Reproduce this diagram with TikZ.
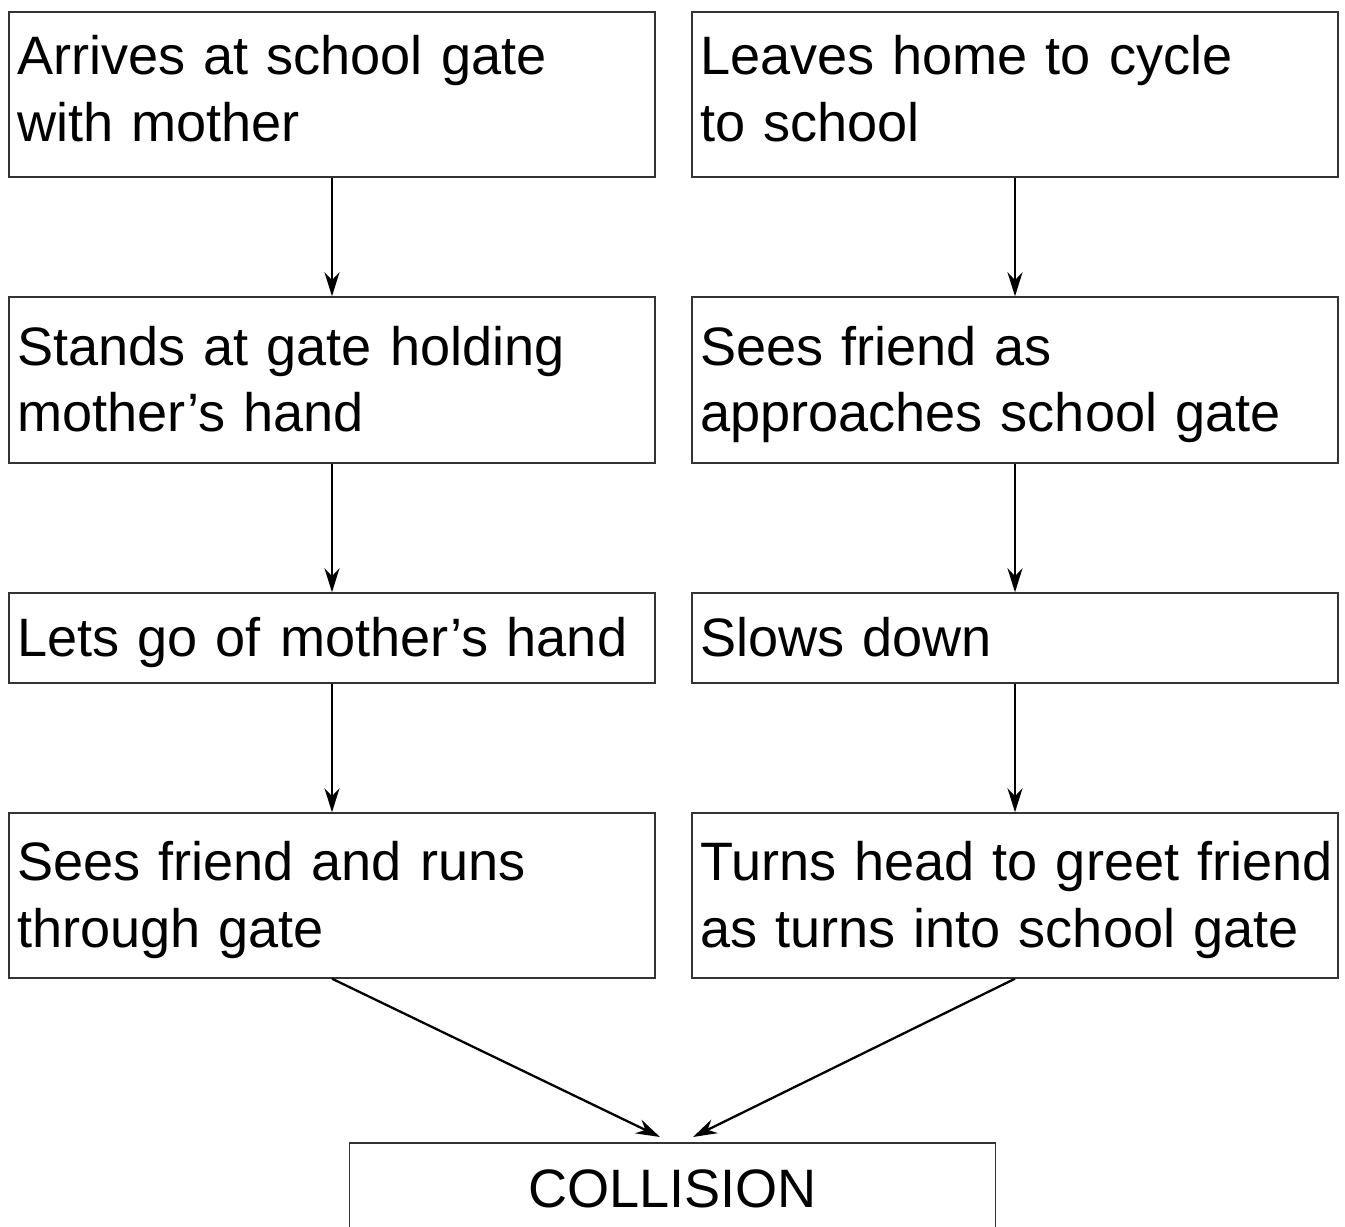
\documentclass[tikz,border=0pt]{standalone}
\usepackage{fontspec}
\setmainfont{Liberation Sans}[WordSpace=0.9]
\usepackage{tikz}
\usetikzlibrary{arrows.meta,positioning,calc}

\begin{document}
\begin{tikzpicture}[
		stepbox/.style={draw=black!80, line width=0.4pt, rectangle, minimum width=6.46cm, text width=6.30cm, inner xsep=0.08cm, inner ysep=0pt, align=left, font=\fontsize{15.4}{18.8}\selectfont,
			execute at begin node={\rule{0pt}{0.55cm}}, execute at end node={\rule[-0.18cm]{0pt}{0.18cm}}},
		toprow/.style={execute at end node={\rule[-0.28cm]{0pt}{0.28cm}}},
		flow/.style={-{Stealth[length=2.4mm,width=1.5mm]}, line width=0.65pt, black}
		]
		
		\useasboundingbox (0,0) rectangle (13.45,12.27);
		
		% child on foot
		\node[stepbox, toprow, minimum height=1.65cm] (a1) at (3.32,11.325) {Arrives at school gate\\with mother};
		\node[stepbox, minimum height=1.66cm] (a2) at (3.32,8.47) {Stands at gate holding\\mother’s hand};
		\node[stepbox, minimum height=0.90cm] (a3) at (3.32,5.89) {Lets go of\hspace{0.36em}mother’s hand};
		\node[stepbox, minimum height=1.65cm] (a4) at (3.32,3.315) {Sees friend and runs\\through gate};
		
		% cyclist
		\node[stepbox, toprow, minimum height=1.65cm] (b1) at (10.15,11.325) {Leaves home to cycle\\to school};
		\node[stepbox, minimum height=1.66cm] (b2) at (10.15,8.47) {Sees friend as\\approaches school gate};
		\node[stepbox, minimum height=0.90cm] (b3) at (10.15,5.89) {Slows down};
		\node[stepbox, minimum height=1.65cm] (b4) at (10.15,3.315) {\mbox{Turns head to greet friend}\\as turns into school gate};
		
		\node[stepbox, minimum height=0.92cm, align=center, execute at begin node={}, execute at end node={}] (col) at (6.725,0.38) {COLLISION};
		
		\draw[flow] (a1.south) -- (a2.north);
		\draw[flow] (a2.south) -- (a3.north);
		\draw[flow] (a3.south) -- (a4.north);
		\draw[flow] (b1.south) -- (b2.north);
		\draw[flow] (b2.south) -- (b3.north);
		\draw[flow] (b3.south) -- (b4.north);
		
		\coordinate (hitL) at (6.60,0.90);
		\coordinate (hitR) at (6.93,0.90);
		\draw[flow] (a4.south) -- (hitL);
		\draw[flow] (b4.south) -- (hitR);
		\end{tikzpicture}
\end{document}
